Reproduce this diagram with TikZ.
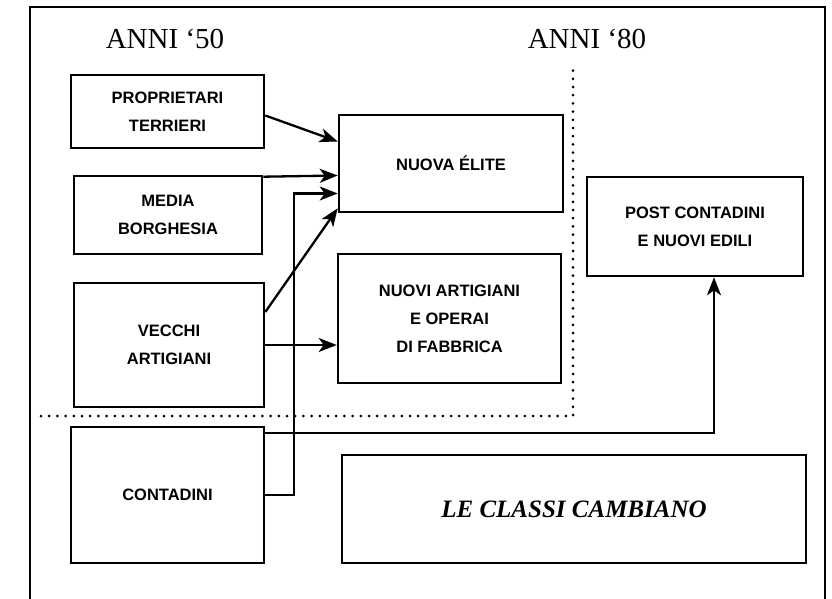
\documentclass[tikz,border=0pt]{standalone}
\usepackage{fontspec}
\setmainfont{Liberation Serif}
\setsansfont{Liberation Sans}
\usetikzlibrary{arrows.meta,positioning,calc}

\begin{document}
\begin{tikzpicture}[x=1pt, y=-1pt,
  font=\sffamily\bfseries\fontsize{16.5}{28}\selectfont,
  box/.style={draw, line width=2.6pt, align=center, inner sep=2pt},
  era/.style={font=\rmfamily\fontsize{29}{32}\selectfont},
  arr/.style={line width=2.3pt, -{Stealth[length=18pt, width=14pt, inset=5pt]}},
  sep/.style={line width=3pt, line cap=round, dash pattern=on 0pt off 8.2pt}]
  \useasboundingbox (0,0) rectangle (832,599);
  \draw[line width=2.4pt] (30,599) -- (30,7) -- (825,7) -- (825,599);
  \node[era] (a50) at (165,39) {ANNI ‘50};
  \node[era] (a80) at (587,39) {ANNI ‘80};
  \node[box, minimum width=193pt, minimum height=73pt] (prop) at (167.5,111.5) {PROPRIETARI\\TERRIERI};
  \node[box, minimum width=188pt, minimum height=78pt] (media) at (168,215) {MEDIA\\BORGHESIA};
  \node[box, minimum width=190pt, minimum height=124pt] (vecchi) at (169,345) {VECCHI\\ARTIGIANI};
  \node[box, minimum width=193pt, minimum height=136pt] (contad) at (167.5,495) {CONTADINI};
  \node[box, minimum width=224pt, minimum height=97pt] (elite) at (451,163.5) {NUOVA ÉLITE};
  \node[box, minimum width=223pt, minimum height=129pt] (nuovi) at (449.5,318.5) {NUOVI ARTIGIANI\\E OPERAI\\DI FABBRICA};
  \node[box, minimum width=216pt, minimum height=99pt] (post) at (695,226.5) {POST CONTADINI\\E NUOVI EDILI};
  \node[box, minimum width=464pt, minimum height=108pt, font=\rmfamily\bfseries\itshape\fontsize{25}{30}\selectfont] (classi) at (574,509) {LE CLASSI CAMBIANO};
  \coordinate (turn) at (573,416);
  \draw[sep] (41,416) -- (turn) -- (573,65);
  \draw[arr] ($(prop.east)+(0,4)$) -- ($(elite.west)+(0,-22)$);
  \draw[arr] ($(media.north east)+(0,2)$) -- ($(elite.west)+(0,12)$);
  \draw[arr] ($(vecchi.east)+(0,-33)$) -- ($(elite.south west)+(0,-5)$);
  \draw[arr] (vecchi.east) -- (vecchi.east -| nuovi.west);
  \draw[arr] (contad.east) -| ($(elite.west)+(-44,30)$) -- ($(elite.west)+(0,30)$);
  \draw[arr] ($(contad.north east)+(0,7)$) -| ($(post.south)+(19,0)$);
\end{tikzpicture}
\end{document}
